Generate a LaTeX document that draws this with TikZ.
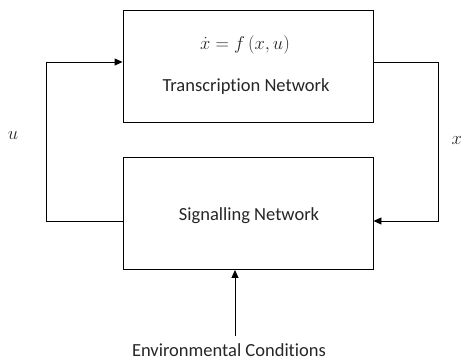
\documentclass[tikz,border=0pt]{standalone}
\usepackage{fontspec}
\setmainfont{Carlito}[Ligatures=NoCommon]
\usepackage{fix-cm}
\usetikzlibrary{arrows.meta}
\begin{document}
\begin{tikzpicture}[x=1pt,y=-1pt,
  blk/.style={draw, line width=0.9pt, minimum width=250pt, minimum height=112pt, inner sep=0pt},
  lbl/.style={font=\fontsize{18.5}{22}\selectfont, text=black!85, inner sep=0pt},
  conn/.style={line width=0.9pt, -{Triangle[length=8pt,width=7pt]}}]
\useasboundingbox (0,0) rectangle (462,361);
\node[blk] (tn) at (248,66) {};
\node[blk] (sn) at (248,213.5) {};
\node[lbl] (eq) at (245,45) {$\dot{x} = f\,(x,u)$};
\node[lbl] (tt) at (246,87) {Transcription Network};
\node[lbl] (st) at (249,216) {Signalling Network};
\node[lbl, anchor=base] (env) at (229,356) {Environmental Conditions};
\node[lbl] (u) at (13,136) {$u$};
\node[lbl, anchor=east] (x) at (462,141) {$x$};
\coordinate (lt) at (46,62);
\coordinate (lb) at (46,221);
\coordinate (rt) at (438,62);
\coordinate (rb) at (438,221);
\coordinate (eb) at (235,336);
\draw[conn] (sn.west |- lb) -- (lb) -- (lt) -- (tn.west |- lt);
\draw[conn] (tn.east |- rt) -- (rt) -- (rb) -- (sn.east |- rb);
\draw[conn] (eb) -- (sn.south -| eb);
\end{tikzpicture}
\end{document}
